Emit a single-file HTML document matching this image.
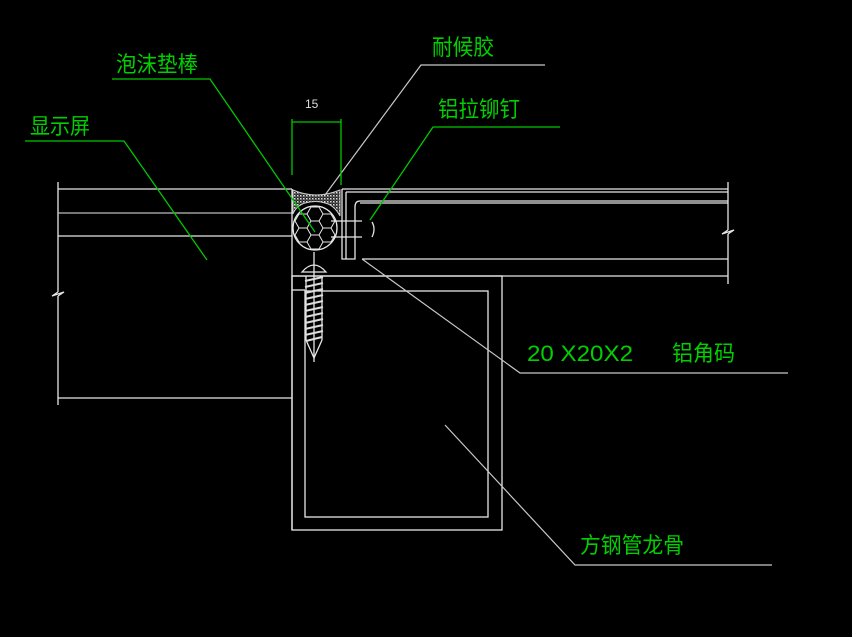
<!DOCTYPE html>
<html><head><meta charset="utf-8"><style>
html,body{margin:0;padding:0;background:#000;}
svg{display:block;}
text{font-family:"Liberation Sans","Noto Sans CJK SC",sans-serif;}
</style></head><body>
<svg width="852" height="637" viewBox="0 0 852 637" xmlns="http://www.w3.org/2000/svg">
<rect width="852" height="637" fill="#000"/>
<defs>
<pattern id="dots" width="3" height="3" patternUnits="userSpaceOnUse">
<rect width="3" height="3" fill="#222"/><rect x="0" y="0" width="1.5" height="1.5" fill="#ddd"/><rect x="1.5" y="1.5" width="1" height="1" fill="#999"/>
</pattern>
</defs>
<g stroke="#e6e6e6" stroke-width="1.3" fill="none">
<line x1="58" y1="182" x2="58" y2="292"/>
<polyline points="58,292 52,296 64,292 58,296"/>
<line x1="58" y1="296" x2="58" y2="405"/>
<line x1="58" y1="189" x2="292" y2="189"/>
<line x1="58" y1="213" x2="292" y2="213" stroke="#bbb"/>
<line x1="58" y1="236" x2="292" y2="236"/>
<line x1="58" y1="398" x2="292" y2="398"/>
<line x1="292" y1="189" x2="292" y2="530"/>
<line x1="342" y1="189" x2="728" y2="189"/>
<line x1="346" y1="192" x2="728" y2="192"/>
<line x1="360" y1="201" x2="728" y2="201"/>
<line x1="360" y1="203" x2="728" y2="203"/>
<path d="M342,189 V259 H355 V207 Q355,201 360,201"/>
<line x1="346" y1="192" x2="346" y2="259"/>
<line x1="362" y1="259" x2="728" y2="259"/>
<line x1="292" y1="276" x2="728" y2="276"/>
<line x1="728" y1="182" x2="728" y2="230"/>
<polyline points="728,230 722,234 734,230 728,234"/>
<line x1="728" y1="234" x2="728" y2="284"/>
<line x1="331" y1="221" x2="362" y2="221"/>
<line x1="331" y1="237" x2="362" y2="237"/>
<path d="M372,222 Q376,229 372,237"/>
<rect x="292" y="276" width="210" height="254"/>
<rect x="305" y="291" width="183" height="226"/>
<line x1="292" y1="290" x2="305" y2="290"/>
<circle cx="315" cy="228" r="22"/>
<g stroke-width="1">
<polygon points="311,221 319,221 323,228 319,235 311,235 307,228"/>
<polyline points="307,228 299,228 295,221 299,214 307,214 311,221"/>
<polyline points="319,221 323,214 331,214 335,221 331,228 323,228"/>
<polyline points="307,214 311,207 319,207 323,214"/>
<polyline points="299,228 295,235 299,242 307,242 311,235"/>
<polyline points="323,228 331,228 335,235 331,242 323,242 319,235"/>
<polyline points="307,242 311,249 319,249 323,242"/>
</g>
<path d="M302,272 Q314,258 326,272 Z"/>
<line x1="314" y1="252" x2="314" y2="362"/>
<line x1="306" y1="276" x2="306" y2="340"/>
<line x1="322" y1="276" x2="322" y2="340"/>
<polyline points="306,340 314,358 322,340"/>
</g>
<g stroke="#ddd" stroke-width="2">
<line x1="305" y1="281" x2="323" y2="277"/><line x1="305" y1="287" x2="323" y2="283"/>
<line x1="305" y1="293" x2="323" y2="289"/><line x1="305" y1="299" x2="323" y2="295"/>
<line x1="305" y1="305" x2="323" y2="301"/><line x1="305" y1="311" x2="323" y2="307"/>
<line x1="305" y1="317" x2="323" y2="313"/><line x1="305" y1="323" x2="323" y2="319"/>
<line x1="305" y1="329" x2="323" y2="325"/><line x1="305" y1="335" x2="323" y2="331"/>
<line x1="306" y1="341" x2="322" y2="337"/>
</g>
<path d="M293,190 Q316,200 340,190 L340,216 Q334,205 325,203 Q316,200 305,203 Q296,206 293,214 Z" fill="url(#dots)" stroke="#ccc" stroke-width="1"/>
<g stroke="#c8c8c8" stroke-width="1.2" fill="none">
<polyline points="325,195 421,65 545,65"/>
<polyline points="362,259 520,373 788,373"/>
<polyline points="445,425 575,565 772,565"/>
</g>
<g stroke="#00c800" stroke-width="1.3" fill="none">
<polyline points="112,79 210,79 315,232"/>
<polyline points="560,127 433,127 370,220"/>
<polyline points="25,141 124,141 207,260"/>
<line x1="292" y1="119" x2="292" y2="175"/>
<line x1="341" y1="119" x2="341" y2="185"/>
<line x1="292" y1="122" x2="341" y2="122"/>
</g>
<text x="305" y="108" fill="#ddd" font-size="12">15</text>
<g fill="#00d000" font-size="22">
<text x="116" y="72" textLength="82" lengthAdjust="spacingAndGlyphs">泡沫垫棒</text>
<text x="432" y="55" textLength="62" lengthAdjust="spacingAndGlyphs">耐候胶</text>
<text x="438" y="117" textLength="82" lengthAdjust="spacingAndGlyphs">铝拉铆钉</text>
<text x="30" y="134" textLength="60" lengthAdjust="spacingAndGlyphs">显示屏</text>
<text x="527" y="361" textLength="106" lengthAdjust="spacingAndGlyphs">20 X20X2</text>
<text x="672" y="361" textLength="63" lengthAdjust="spacingAndGlyphs">铝角码</text>
<text x="580" y="553" textLength="104" lengthAdjust="spacingAndGlyphs">方钢管龙骨</text>
</g>
</svg>
</body></html>
